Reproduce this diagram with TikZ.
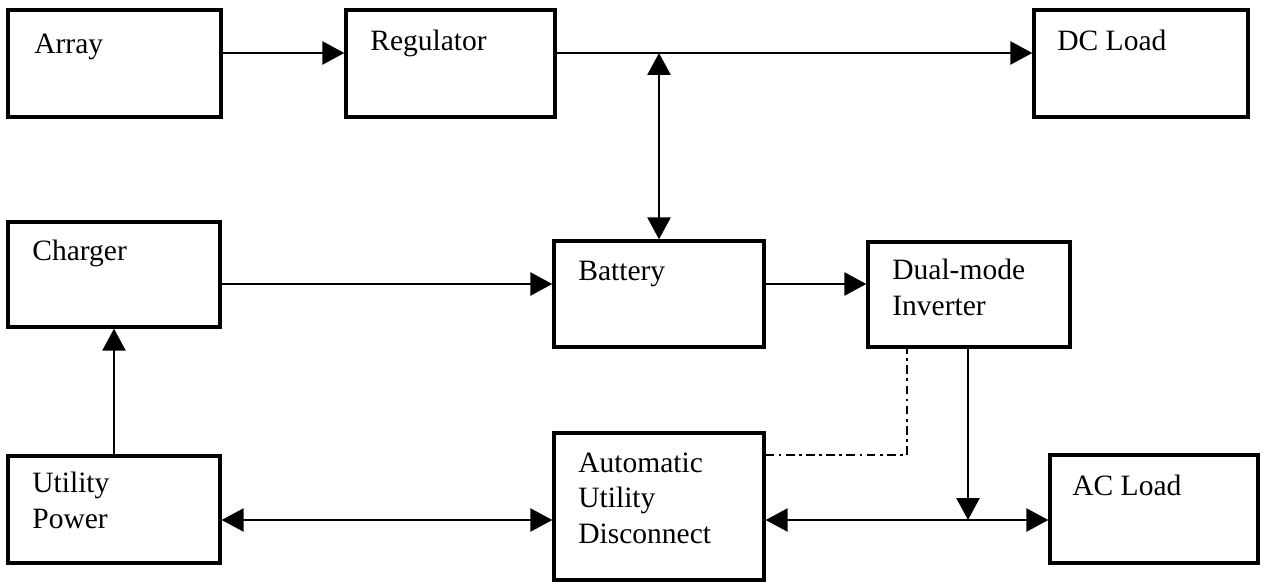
\documentclass[tikz,border=0pt]{standalone}
\usepackage{fontspec}
\setmainfont{Liberation Serif}
\usetikzlibrary{arrows.meta,fit}
\tikzset{
  unit/.style={draw,line width=1.9pt,inner sep=0pt},
  lbl/.style={anchor=base west,inner sep=0pt,align=left,font=\fontsize{16.8}{20}\selectfont},
  flow/.style={-{Triangle[length=.44cm,width=.46cm]},line width=1.5pt},
  both/.style={{Triangle[length=.44cm,width=.46cm]}-{Triangle[length=.44cm,width=.46cm]},line width=1.5pt},
  ctrl/.style={line width=1.5pt,dash pattern=on 5pt off 2.5pt on 1.5pt off 2.5pt}
}
\begin{document}
\begin{tikzpicture}[x=.02cm,y=-.02cm]
  \useasboundingbox (0,0) rectangle (1275,585);
  % blocks
  \node[unit,fit={(8,10)(221,117)}] (array) {};
  \node[unit,fit={(346,10)(555,117)}] (reg) {};
  \node[unit,fit={(1034,10)(1248,117)}] (dcload) {};
  \node[unit,fit={(8,222)(220,327)}] (charger) {};
  \node[unit,fit={(554,241)(764,347)}] (battery) {};
  \node[unit,fit={(868,242)(1070,347)}] (inverter) {};
  \node[unit,fit={(8,456)(220,563)}] (utility) {};
  \node[unit,fit={(554,433)(764,580)}] (aud) {};
  \node[unit,fit={(1050,455)(1258,563)}] (acload) {};
  % captions (base = last line)
  \node[lbl] (arraytxt) at (34,53) {Array};
  \node[lbl] (regtxt) at (370,50) {Regulator};
  \node[lbl] (dcloadtxt) at (1057,50) {DC Load};
  \node[lbl] (chargertxt) at (32,260) {Charger};
  \node[lbl] (batterytxt) at (578,280) {Battery};
  \node[lbl] (invertertxt) at (892,315) {Dual-mode\\Inverter};
  \node[lbl] (utilitytxt) at (32,528) {Utility\\Power};
  \node[lbl] (audtxt) at (578,543) {Automatic\\Utility\\Disconnect};
  \node[lbl] (acloadtxt) at (1072,495) {AC Load};
  % bus levels
  \coordinate (dcbus) at (659,53);
  \coordinate (row2) at (0,284);
  \coordinate (acbus) at (968,520);
  \coordinate (sig) at (907,455);
  \draw[flow] (array.east |- dcbus) -- (reg.west |- dcbus);
  \draw[flow] (reg.east |- dcbus) -- (dcload.west |- dcbus);
  \draw[both] (dcbus) -- (battery.north -| dcbus);
  \draw[flow] (charger.east |- row2) -- (battery.west |- row2);
  \draw[flow] (battery.east |- row2) -- (inverter.west |- row2);
  \draw[flow] (utility.north) -- (charger.south);
  \draw[both] (utility.east |- acbus) -- (aud.west |- acbus);
  \draw[both] (aud.east |- acbus) -- (acload.west |- acbus);
  \draw[flow] (inverter.south -| acbus) -- (acbus);
  \draw[ctrl] (aud.east |- sig) -| (inverter.south -| sig);
\end{tikzpicture}
\end{document}
